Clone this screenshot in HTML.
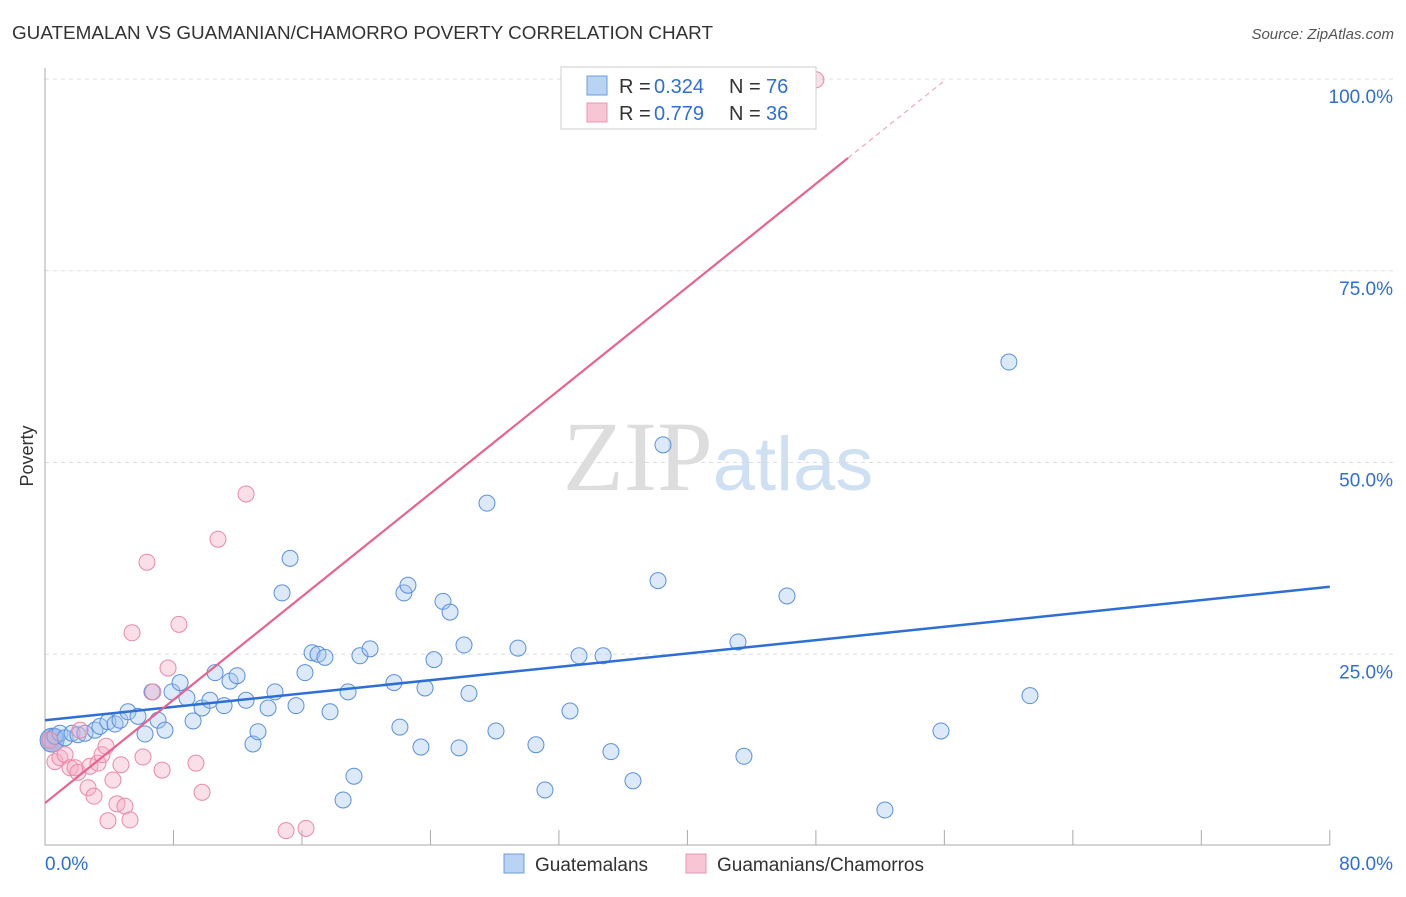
<!DOCTYPE html>
<html><head><meta charset="utf-8"><style>
body{margin:0;background:#fff;font-family:"Liberation Sans",sans-serif}
</style></head><body>
<svg id="chart" width="1406" height="892" xmlns="http://www.w3.org/2000/svg" font-family="Liberation Sans, sans-serif">
<text x="12" y="39" font-size="18" fill="#333" textLength="701" lengthAdjust="spacingAndGlyphs">GUATEMALAN VS GUAMANIAN/CHAMORRO POVERTY CORRELATION CHART</text>
<text x="1394" y="39" font-size="15" fill="#555" text-anchor="end" font-style="italic">Source: ZipAtlas.com</text>
<text x="718" y="490" font-size="100" text-anchor="middle"><tspan fill="#ddd" font-family="Liberation Serif, serif">ZIP</tspan><tspan fill="#cfe0f3" font-size="76">atlas</tspan></text>
<text transform="translate(33,456) rotate(-90)" font-size="18" fill="#333" text-anchor="middle">Poverty</text>
<g id="grid"></g><g id="axes"></g><g id="pts"></g><g id="lines"></g>
<g>
<rect x="561" y="67" width="255" height="62" fill="#fff" stroke="#ccc"/>
<rect x="587" y="76" width="20" height="19" fill="#b9d3f3" stroke="#6b9ee0"/>
<rect x="587" y="103" width="20" height="19" fill="#f8c5d5" stroke="#e897b1"/>
<text x="619" y="93" font-size="20" fill="#333">R =</text><text x="654" y="93" font-size="20" fill="#2e6fd6">0.324</text>
<text x="729" y="93" font-size="20" fill="#333">N =</text><text x="766" y="93" font-size="20" fill="#2e6fd6">76</text>
<text x="619" y="120" font-size="20" fill="#333">R =</text><text x="654" y="120" font-size="20" fill="#2e6fd6">0.779</text>
<text x="729" y="120" font-size="20" fill="#333">N =</text><text x="766" y="120" font-size="20" fill="#2e6fd6">36</text>
</g>
<g>
<rect x="504" y="854" width="20" height="19" fill="#b9d3f3" stroke="#6b9ee0"/>
<text x="535" y="871" font-size="19" fill="#333">Guatemalans</text>
<rect x="686" y="854" width="20" height="19" fill="#f8c5d5" stroke="#e897b1"/>
<text x="717" y="871" font-size="19" fill="#333">Guamanians/Chamorros</text>
</g>
</svg>
<script>
const yTicks=[25,50,75,100];
const yTickLabels=["25.0%","50.0%","75.0%","100.0%"];
const xTicks=[0,8,16,24,32,40,48,56,64,72,80];
const blueX=[0.44,0.62,0.93,1.25,1.68,2.05,2.49,3.11,3.42,3.92,4.36,4.67,5.17,5.79,6.23,6.66,7.04,7.47,7.91,8.41,8.84,9.22,9.78,10.27,10.59,11.15,11.52,11.96,12.52,12.95,13.26,13.89,14.32,14.76,15.26,15.63,16.19,16.63,17.0,17.43,17.75,18.56,18.87,19.24,19.61,20.24,21.73,22.1,22.35,22.6,23.41,23.66,24.22,24.78,25.22,25.78,26.09,26.4,27.52,28.08,29.45,30.57,31.13,32.69,33.25,34.75,35.24,36.61,38.17,38.48,43.15,43.52,46.2,52.3,55.79,60.02,61.33];
const blueY=[13.8,14.3,14.7,14.1,14.7,14.5,14.7,15.1,15.6,16.2,15.9,16.4,17.5,16.9,14.6,20.1,16.4,15.1,20.1,21.3,19.3,16.3,18.0,19.0,22.6,18.3,21.5,22.2,19.0,13.3,14.9,18.0,20.1,33.0,37.5,18.3,22.6,25.2,25.0,24.6,17.5,6.0,20.1,9.1,24.8,25.7,21.3,15.5,33.0,34.0,12.9,20.6,24.3,31.9,30.5,12.8,26.2,19.9,44.7,15.0,25.8,13.2,7.3,17.6,24.8,24.8,12.3,8.5,34.6,52.3,26.6,11.7,32.6,4.7,15.0,63.1,19.6];
const pinkX=[0.31,0.62,0.93,1.25,1.56,1.87,2.05,2.18,2.68,2.8,3.05,3.3,3.55,3.8,3.92,4.23,4.48,4.73,4.98,5.29,5.42,6.1,6.35,6.72,7.29,7.66,8.34,9.4,9.78,10.77,12.52,15.01,16.25,48.0];
const pinkY=[13.8,11.0,11.5,11.9,10.2,10.2,9.6,15.1,7.6,10.4,6.5,10.8,11.9,13.0,3.3,8.6,5.5,10.6,5.2,3.4,27.8,11.6,37.0,20.1,9.9,23.2,28.9,10.8,7.0,40.0,45.9,2.0,2.3,99.9];
const blueLine=[[0,16.4],[80,33.8]];
const pinkLine=[[0,5.6],[50,89.7]];
const pinkDash=[[50,89.7],[55.9,99.6]];
const X=v=>45+v*16.06, Y=v=>846-v*7.67;
const NS="http://www.w3.org/2000/svg";
function mk(parent,tag,attrs){const e=document.createElementNS(NS,tag);for(const k in attrs)e.setAttribute(k,attrs[k]);document.getElementById(parent).appendChild(e);return e;}
yTicks.forEach((t,i)=>{
 const g=mk('grid','line',{x1:45,x2:1394,y1:Y(t),y2:Y(t),stroke:'#ddd','stroke-dasharray':'4,4'});
 
 
 const l=mk('axes','text',{x:1393,y:Y(t)+24,'font-size':19,fill:'#2e6fd6','text-anchor':'end'});
 l.textContent=yTickLabels[i];
 
 
});
const ax=mk('axes','path',{d:'M45 68V845H1330',stroke:'#aaa',fill:'none'});


xTicks.forEach(t=>{
 const k=mk('axes','line',{x1:X(t),x2:X(t),y1:830,y2:845,stroke:'#aaa'});
 
 
});
const xl0=mk('axes','text',{x:45,y:870,'font-size':19,fill:'#2e6fd6'});xl0.textContent='0.0%';


const xl1=mk('axes','text',{x:1393,y:870,'font-size':19,fill:'#2e6fd6','text-anchor':'end'});xl1.textContent='80.0%';


blueX.forEach((v,i)=>{
 const c=mk('pts','circle',{cx:X(v),cy:Y(blueY[i]),r:i==0?12:8,fill:i==0?'rgba(120,140,210,0.6)':'rgba(160,196,240,0.38)',stroke:'#5b90dd','stroke-width':1});
 
 
});
pinkX.forEach((v,i)=>{
 const c=mk('pts','circle',{cx:X(v),cy:Y(pinkY[i]),r:8,fill:'rgba(245,170,195,0.38)',stroke:'#e88aa9','stroke-width':1});
 
 
});
const bl=mk('lines','line',{x1:X(blueLine[0][0]),y1:Y(blueLine[0][1]),x2:X(blueLine[1][0]),y2:Y(blueLine[1][1]),stroke:'#2e6fd6','stroke-width':2.5});


const pl=mk('lines','line',{x1:X(pinkLine[0][0]),y1:Y(pinkLine[0][1]),x2:X(pinkLine[1][0]),y2:Y(pinkLine[1][1]),stroke:'#e8638e','stroke-width':2.2});


const pd=mk('lines','line',{x1:X(pinkDash[0][0]),y1:Y(pinkDash[0][1]),x2:X(pinkDash[1][0]),y2:Y(pinkDash[1][1]),stroke:'#f0a8bf','stroke-width':1.2,'stroke-dasharray':'5,4'});


</script>
</body></html>
